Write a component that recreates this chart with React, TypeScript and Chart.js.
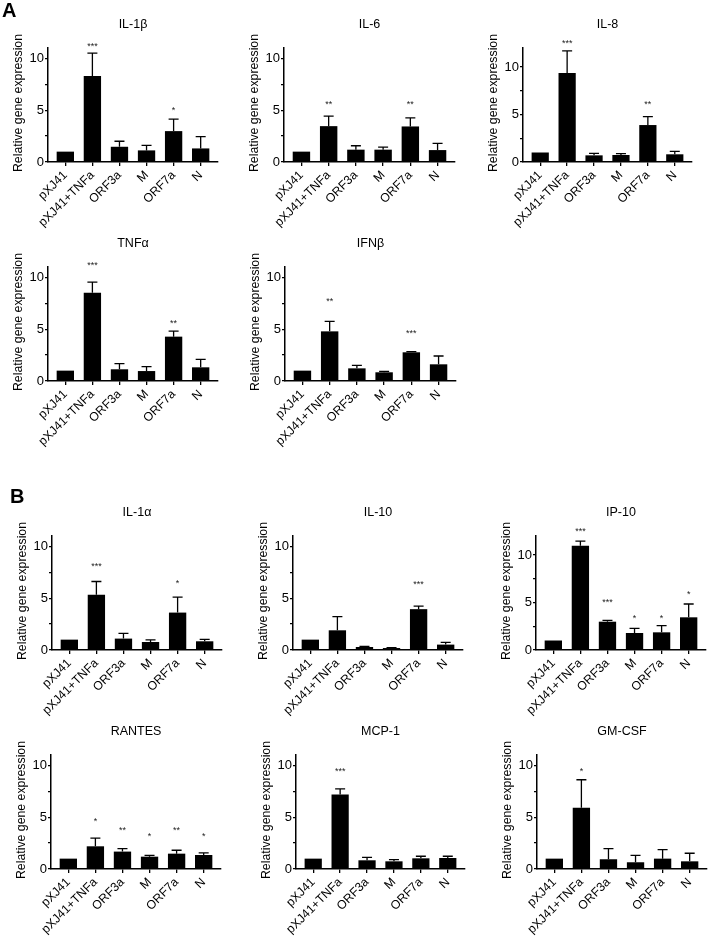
import React, { useEffect, useRef } from 'react';
import { Chart, registerables } from 'chart.js';

Chart.register(...registerables);

// ---------- data ----------
const GROUPS = ['pXJ41', 'pXJ41+TNFa', 'ORF3a', 'M', 'ORF7a', 'N'];
const Y_TICKS = [0, 2.5, 5, 7.5, 10];
const Y_LABEL = 'Relative gene expression';

const IL1B_MEAN = [1.0, 8.3, 1.47, 1.12, 2.98, 1.31];
const IL1B_SD = [0, 2.2, 0.53, 0.48, 1.15, 1.13];
const IL1B_SIG = ['', '***', '', '', '*', ''];
const IL1B_SIG_AT = [0, 11.4, 0, 0, 5.2, 0];

const IL6_MEAN = [1.0, 3.46, 1.19, 1.19, 3.43, 1.15];
const IL6_SD = [0, 0.96, 0.38, 0.25, 0.83, 0.65];
const IL6_SIG = ['', '**', '', '', '**', ''];
const IL6_SIG_AT = [0, 5.83, 0, 0, 5.83, 0];

const IL8_MEAN = [1.0, 9.37, 0.7, 0.74, 3.89, 0.81];
const IL8_SD = [0, 2.33, 0.21, 0.14, 0.88, 0.31];
const IL8_SIG = ['', '***', '', '', '**', ''];
const IL8_SIG_AT = [0, 12.77, 0, 0, 6.28, 0];

const TNFA_MEAN = [1.0, 8.52, 1.13, 0.96, 4.28, 1.32];
const TNFA_SD = [0, 1.03, 0.54, 0.42, 0.54, 0.77];
const TNFA_SIG = ['', '***', '', '', '**', ''];
const TNFA_SIG_AT = [0, 11.35, 0, 0, 5.82, 0];

const IFNB_MEAN = [1.0, 4.79, 1.22, 0.84, 2.77, 1.61];
const IFNB_SD = [0, 0.97, 0.29, 0.09, 0.06, 0.8];
const IFNB_SIG = ['', '**', '', '', '***', ''];
const IFNB_SIG_AT = [0, 7.88, 0, 0, 4.82, 0];

const IL1A_MEAN = [1.0, 5.32, 1.1, 0.77, 3.61, 0.84];
const IL1A_SD = [0, 1.29, 0.51, 0.2, 1.49, 0.19];
const IL1A_SIG = ['', '***', '', '', '*', ''];
const IL1A_SIG_AT = [0, 8.29, 0, 0, 6.61, 0];

const IL10_MEAN = [1.0, 1.9, 0.29, 0.19, 3.94, 0.52];
const IL10_SD = [0, 1.33, 0.06, 0.04, 0.29, 0.22];
const IL10_SIG = ['', '', '', '', '***', ''];
const IL10_SIG_AT = [0, 0, 0, 0, 6.52, 0];

const IP10_MEAN = [1.0, 10.98, 2.98, 1.79, 1.86, 3.44];
const IP10_SD = [0, 0.49, 0.14, 0.49, 0.7, 1.4];
const IP10_SIG = ['', '***', '***', '*', '*', '*'];
const IP10_SIG_AT = [0, 12.7, 5.26, 3.6, 3.6, 6.14];

const RANTES_MEAN = [1.0, 2.19, 1.68, 1.19, 1.48, 1.35];
const RANTES_SD = [0, 0.78, 0.29, 0.13, 0.33, 0.2];
const RANTES_SIG = ['', '*', '**', '*', '**', '*'];
const RANTES_SIG_AT = [0, 4.84, 4.0, 3.35, 4.0, 3.35];

const MCP1_MEAN = [1.0, 7.19, 0.84, 0.74, 1.03, 1.06];
const MCP1_SD = [0, 0.55, 0.29, 0.16, 0.2, 0.17];
const MCP1_SIG = ['', '***', '', '', '', ''];
const MCP1_SIG_AT = [0, 9.68, 0, 0, 0, 0];

const GMCSF_MEAN = [1.0, 5.9, 0.94, 0.65, 1.0, 0.74];
const GMCSF_SD = [0, 2.71, 1.03, 0.67, 0.87, 0.78];
const GMCSF_SIG = ['', '*', '', '', '', ''];
const GMCSF_SIG_AT = [0, 9.68, 0, 0, 0, 0];

// ---------- layout ----------
const FONT = '"Liberation Sans", Arial, Helvetica, sans-serif';
const PAD_L = 50; // room for y ticks + y title
const PAD_T = 45; // room for panel title
const PAD_R = 8;
const PAD_B = 80; // room for rotated x labels
const PLOT_H = 114;

type PanelDef = {
  title: string;
  mean: number[];
  sd: number[];
  sig: string[];
  sigAt: number[];
  max: number;
  axisX: number;
  end: number;
  zeroY: number;
};

const PANELS: PanelDef[] = [
  { title: 'IL-1β', mean: IL1B_MEAN, sd: IL1B_SD, sig: IL1B_SIG, sigAt: IL1B_SIG_AT, max: 11, axisX: 48, end: 218, zeroY: 162 },
  { title: 'IL-6', mean: IL6_MEAN, sd: IL6_SD, sig: IL6_SIG, sigAt: IL6_SIG_AT, max: 11, axisX: 284, end: 455, zeroY: 162 },
  { title: 'IL-8', mean: IL8_MEAN, sd: IL8_SD, sig: IL8_SIG, sigAt: IL8_SIG_AT, max: 12, axisX: 523, end: 692, zeroY: 162 },
  { title: 'TNFα', mean: TNFA_MEAN, sd: TNFA_SD, sig: TNFA_SIG, sigAt: TNFA_SIG_AT, max: 11, axisX: 48, end: 218, zeroY: 381 },
  { title: 'IFNβ', mean: IFNB_MEAN, sd: IFNB_SD, sig: IFNB_SIG, sigAt: IFNB_SIG_AT, max: 11, axisX: 285, end: 456, zeroY: 381 },
  { title: 'IL-1α', mean: IL1A_MEAN, sd: IL1A_SD, sig: IL1A_SIG, sigAt: IL1A_SIG_AT, max: 11, axisX: 52, end: 222, zeroY: 650 },
  { title: 'IL-10', mean: IL10_MEAN, sd: IL10_SD, sig: IL10_SIG, sigAt: IL10_SIG_AT, max: 11, axisX: 293, end: 463, zeroY: 650 },
  { title: 'IP-10', mean: IP10_MEAN, sd: IP10_SD, sig: IP10_SIG, sigAt: IP10_SIG_AT, max: 12, axisX: 536, end: 706, zeroY: 650 },
  { title: 'RANTES', mean: RANTES_MEAN, sd: RANTES_SD, sig: RANTES_SIG, sigAt: RANTES_SIG_AT, max: 11, axisX: 51, end: 221, zeroY: 869 },
  { title: 'MCP-1', mean: MCP1_MEAN, sd: MCP1_SD, sig: MCP1_SIG, sigAt: MCP1_SIG_AT, max: 11, axisX: 296, end: 465, zeroY: 869 },
  { title: 'GM-CSF', mean: GMCSF_MEAN, sd: GMCSF_SD, sig: GMCSF_SIG, sigAt: GMCSF_SIG_AT, max: 11, axisX: 537, end: 707, zeroY: 869 },
];

function Panel({ p }: { p: PanelDef }) {
  const ref = useRef<HTMLCanvasElement>(null);
  const plotW = p.end - p.axisX;
  const W = PAD_L + plotW + PAD_R;
  const H = PAD_T + PLOT_H + PAD_B;

  useEffect(() => {
    if (!ref.current) return;
    const decor = {
      id: 'decor',
      afterDatasetsDraw(chart: any) {
        const { ctx, chartArea, scales } = chart;
        const x = scales.x;
        const y = scales.y;
        ctx.save();
        // error bars (upper)
        ctx.strokeStyle = '#000';
        ctx.lineWidth = 1.3;
        p.mean.forEach((m, i) => {
          if (!p.sd[i]) return;
          const px = x.getPixelForValue(i);
          const y0 = y.getPixelForValue(m);
          const y1 = y.getPixelForValue(m + p.sd[i]);
          ctx.beginPath();
          ctx.moveTo(px, y0);
          ctx.lineTo(px, y1);
          ctx.moveTo(px - 5, y1);
          ctx.lineTo(px + 5, y1);
          ctx.stroke();
        });
        // significance stars
        ctx.fillStyle = '#222';
        ctx.font = `9px ${FONT}`;
        ctx.textAlign = 'center';
        ctx.textBaseline = 'alphabetic';
        p.sig.forEach((s, i) => {
          if (!s) return;
          ctx.fillText(s, x.getPixelForValue(i), y.getPixelForValue(p.sigAt[i]) + 5);
        });
        // panel title
        ctx.fillStyle = '#000';
        ctx.font = `12.5px ${FONT}`;
        ctx.textBaseline = 'middle';
        ctx.fillText(p.title, (chartArea.left + chartArea.right) / 2, chartArea.top - 23.5);
        // y-axis title
        ctx.font = `12.3px ${FONT}`;
        ctx.translate(chartArea.left - 29, (chartArea.top + chartArea.bottom) / 2 - 2);
        ctx.rotate(-Math.PI / 2);
        ctx.fillText(Y_LABEL, 0, 0);
        ctx.restore();
      },
    };

    const chart = new Chart(ref.current, {
      type: 'bar',
      data: {
        datasets: [
          {
            data: p.mean.map((v, i) => ({ x: i, y: v })),
            backgroundColor: '#000',
            borderWidth: 0,
            barPercentage: 0.64,
            categoryPercentage: 1,
          } as any,
        ],
      },
      options: {
        responsive: false,
        animation: false,
        devicePixelRatio: 1,
        layout: { padding: { top: PAD_T, right: PAD_R, left: 0, bottom: 0 } },
        plugins: {
          legend: { display: false },
          tooltip: { enabled: false },
          title: { display: false },
        },
        scales: {
          x: {
            type: 'linear',
            min: -0.64,
            max: GROUPS.length - 1 + 0.64,
            offset: false,
            afterBuildTicks: (s: any) => {
              s.ticks = GROUPS.map((_, i) => ({ value: i }));
            },
            afterFit: (s: any) => {
              s.height = PAD_B;
              s.paddingLeft = 0;
              s.paddingRight = 0;
              s.paddingTop = 0;
              s.paddingBottom = 0;
            },
            grid: {
              display: true,
              drawOnChartArea: false,
              drawTicks: true,
              tickLength: 4,
              color: '#000',
              lineWidth: 1.3,
              offset: false,
            },
            border: { display: true, color: '#000', width: 1.5 },
            ticks: {
              autoSkip: false,
              minRotation: 45,
              maxRotation: 45,
              padding: 2,
              color: '#000',
              font: { family: FONT, size: 12.3 },
              callback: (v: any) => GROUPS[Math.round(Number(v))] ?? '',
            },
          },
          y: {
            type: 'linear',
            min: 0,
            max: p.max,
            afterBuildTicks: (s: any) => {
              s.ticks = Y_TICKS.map((v) => ({ value: v }));
            },
            afterFit: (s: any) => {
              s.width = PAD_L;
              s.paddingLeft = 0;
              s.paddingRight = 0;
              s.paddingTop = 0;
              s.paddingBottom = 0;
            },
            grid: {
              display: true,
              drawOnChartArea: false,
              drawTicks: true,
              tickLength: 3,
              color: '#000',
              lineWidth: 1.3,
            },
            border: { display: true, color: '#000', width: 1.5 },
            ticks: {
              autoSkip: false,
              padding: 1,
              color: '#000',
              font: { family: FONT, size: 13 },
              callback: (v: any) => (Number(v) % 5 === 0 ? String(v) : ''),
            },
          },
        },
      } as any,
      plugins: [decor],
    });
    return () => chart.destroy();
  }, []);

  return (
    <canvas
      ref={ref}
      width={W}
      height={H}
      style={{
        position: 'absolute',
        left: p.axisX - PAD_L,
        top: p.zeroY - PLOT_H - PAD_T,
        width: W,
        height: H,
      }}
    />
  );
}

export default function App() {
  return (
    <div
      style={{
        position: 'absolute',
        left: 0,
        top: 0,
        width: 709,
        height: 939,
        overflow: 'hidden',
        background: '#fff',
      }}
    >
      {PANELS.map((p) => (
        <Panel key={p.title} p={p} />
      ))}
      <div style={{ position: 'absolute', left: 2, top: 0, font: `bold 20px/20px ${FONT}`, color: '#000' }}>A</div>
      <div style={{ position: 'absolute', left: 10, top: 486, font: `bold 20px/20px ${FONT}`, color: '#000' }}>B</div>
    </div>
  );
}
